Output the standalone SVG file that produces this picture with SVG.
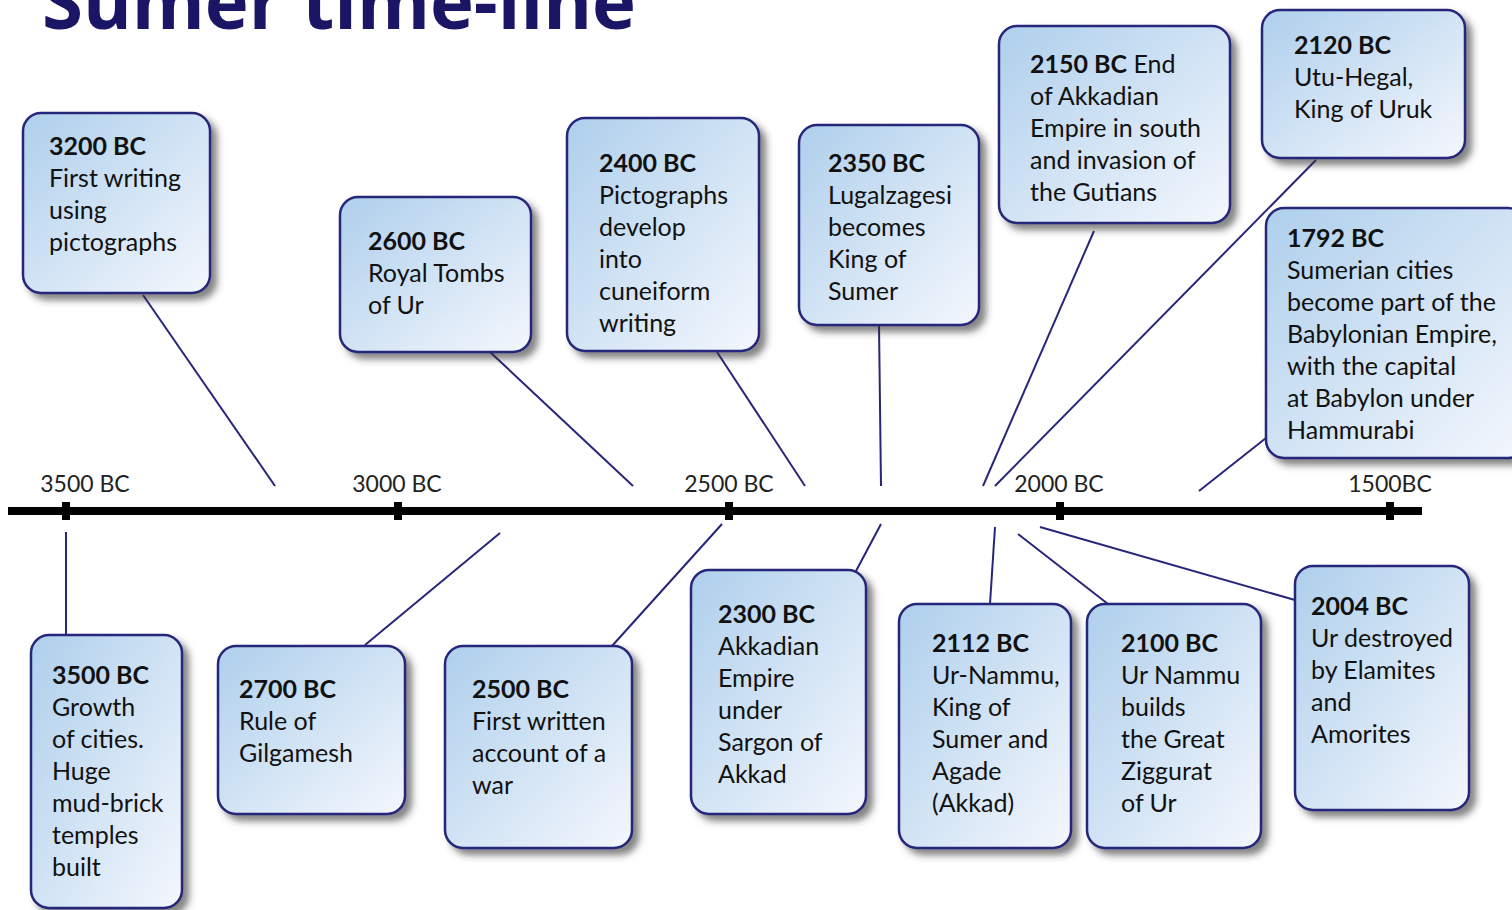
<svg xmlns="http://www.w3.org/2000/svg" width="1512" height="910" viewBox="0 0 1512 910">
<defs>
<linearGradient id="g" x1="0" y1="0" x2="1" y2="1">
<stop offset="0" stop-color="#aecfec"/>
<stop offset="1" stop-color="#f4f7fd"/>
</linearGradient>
<filter id="sh" x="-20%" y="-20%" width="150%" height="150%">
<feDropShadow dx="6" dy="6" stdDeviation="3.5" flood-color="#333" flood-opacity="0.6"/>
</filter>
<style>
.box{fill:url(#g);stroke:#27267a;stroke-width:2.5;filter:url(#sh)}
.t{font-family:Lato,"Liberation Sans",sans-serif;font-size:25px;fill:#111}
.b{font-weight:bold}
.ax{font-family:Lato,"Liberation Sans",sans-serif;font-size:23px;fill:#222;text-anchor:middle}
.c{stroke:#27267a;stroke-width:2;fill:none}
</style>
</defs>
<rect width="1512" height="910" fill="#fff"/>
<text x="42" y="29" font-family="'Open Sans',Lato,sans-serif" font-weight="bold" font-size="76" fill="#1b1566" textLength="594" lengthAdjust="spacingAndGlyphs">Sumer time-line</text>

<g id="axis">
<rect x="8" y="507" width="1414" height="8" fill="#000"/>
<rect x="62" y="502" width="8" height="18" fill="#000"/>
<rect x="394" y="502" width="8" height="18" fill="#000"/>
<rect x="725" y="502" width="8" height="18" fill="#000"/>
<rect x="1056" y="502" width="8" height="18" fill="#000"/>
<rect x="1386" y="502" width="8" height="18" fill="#000"/>
<text class="ax" x="85" y="492">3500 BC</text>
<text class="ax" x="397" y="492">3000 BC</text>
<text class="ax" x="729" y="492">2500 BC</text>
<text class="ax" x="1059" y="492">2000 BC</text>
<text class="ax" x="1390" y="492">1500BC</text>
</g>

<g id="connectors">
<line class="c" x1="143" y1="295" x2="275" y2="486"/>
<line class="c" x1="490" y1="352" x2="633" y2="486"/>
<line class="c" x1="717" y1="352" x2="805" y2="486"/>
<line class="c" x1="879" y1="325" x2="881" y2="486"/>
<line class="c" x1="1094" y1="231" x2="983" y2="486"/>
<line class="c" x1="1316" y1="160" x2="995" y2="486"/>
<line class="c" x1="1266" y1="438" x2="1199" y2="491"/>
<line class="c" x1="66" y1="532" x2="66" y2="635"/>
<line class="c" x1="500" y1="533" x2="365" y2="645"/>
<line class="c" x1="722" y1="524" x2="612" y2="646"/>
<line class="c" x1="881" y1="524" x2="856" y2="571"/>
<line class="c" x1="995" y1="527" x2="990" y2="604"/>
<line class="c" x1="1018" y1="534" x2="1108" y2="604"/>
<line class="c" x1="1040" y1="527" x2="1295" y2="600"/>
</g>

<g id="n3200">
<rect class="box" x="23" y="113" width="187" height="180" rx="18"/>
<text class="t" x="49" y="155"><tspan class="b">3200 BC</tspan><tspan x="49" dy="32">First writing</tspan><tspan x="49" dy="32">using</tspan><tspan x="49" dy="32">pictographs</tspan></text>
</g>
<g id="n2600">
<rect class="box" x="340" y="197" width="191" height="155" rx="18"/>
<text class="t" x="368" y="250"><tspan class="b">2600 BC</tspan><tspan x="368" dy="32">Royal Tombs</tspan><tspan x="368" dy="32">of Ur</tspan></text>
</g>
<g id="n2400">
<rect class="box" x="567" y="118" width="192" height="233" rx="18"/>
<text class="t" x="599" y="172"><tspan class="b">2400 BC</tspan><tspan x="599" dy="32">Pictographs</tspan><tspan x="599" dy="32">develop</tspan><tspan x="599" dy="32">into</tspan><tspan x="599" dy="32">cuneiform</tspan><tspan x="599" dy="32">writing</tspan></text>
</g>
<g id="n2350">
<rect class="box" x="799" y="125" width="180" height="200" rx="18"/>
<text class="t" x="828" y="172"><tspan class="b">2350 BC</tspan><tspan x="828" dy="32">Lugalzagesi</tspan><tspan x="828" dy="32">becomes</tspan><tspan x="828" dy="32">King of</tspan><tspan x="828" dy="32">Sumer</tspan></text>
</g>
<g id="n2150">
<rect class="box" x="999" y="26" width="231" height="197" rx="18"/>
<text class="t" x="1030" y="73"><tspan class="b">2150 BC</tspan> End<tspan x="1030" dy="32">of Akkadian</tspan><tspan x="1030" dy="32">Empire in south</tspan><tspan x="1030" dy="32">and invasion of</tspan><tspan x="1030" dy="32">the Gutians</tspan></text>
</g>
<g id="n2120">
<rect class="box" x="1262" y="10" width="203" height="148" rx="18"/>
<text class="t" x="1294" y="54"><tspan class="b">2120 BC</tspan><tspan x="1294" dy="32">Utu-Hegal,</tspan><tspan x="1294" dy="32">King of Uruk</tspan></text>
</g>
<g id="n1792">
<rect class="box" x="1266" y="208" width="260" height="250" rx="18"/>
<text class="t" x="1287" y="247"><tspan class="b">1792 BC</tspan><tspan x="1287" dy="32">Sumerian cities</tspan><tspan x="1287" dy="32">become part of the</tspan><tspan x="1287" dy="32">Babylonian Empire,</tspan><tspan x="1287" dy="32">with the capital</tspan><tspan x="1287" dy="32">at Babylon under</tspan><tspan x="1287" dy="32">Hammurabi</tspan></text>
</g>

<g id="n3500">
<rect class="box" x="31" y="635" width="151" height="273" rx="18"/>
<text class="t" x="52" y="684"><tspan class="b">3500 BC</tspan><tspan x="52" dy="32">Growth</tspan><tspan x="52" dy="32">of cities.</tspan><tspan x="52" dy="32">Huge</tspan><tspan x="52" dy="32">mud-brick</tspan><tspan x="52" dy="32">temples</tspan><tspan x="52" dy="32">built</tspan></text>
</g>
<g id="n2700">
<rect class="box" x="218" y="646" width="187" height="168" rx="18"/>
<text class="t" x="239" y="698"><tspan class="b">2700 BC</tspan><tspan x="239" dy="32">Rule of</tspan><tspan x="239" dy="32">Gilgamesh</tspan></text>
</g>
<g id="n2500">
<rect class="box" x="445" y="646" width="187" height="202" rx="18"/>
<text class="t" x="472" y="698"><tspan class="b">2500 BC</tspan><tspan x="472" dy="32">First written</tspan><tspan x="472" dy="32">account of a</tspan><tspan x="472" dy="32">war</tspan></text>
</g>
<g id="n2300">
<rect class="box" x="691" y="570" width="175" height="244" rx="18"/>
<text class="t" x="718" y="623"><tspan class="b">2300 BC</tspan><tspan x="718" dy="32">Akkadian</tspan><tspan x="718" dy="32">Empire</tspan><tspan x="718" dy="32">under</tspan><tspan x="718" dy="32">Sargon of</tspan><tspan x="718" dy="32">Akkad</tspan></text>
</g>
<g id="n2112">
<rect class="box" x="899" y="604" width="172" height="244" rx="18"/>
<text class="t" x="932" y="652"><tspan class="b">2112 BC</tspan><tspan x="932" dy="32">Ur-Nammu,</tspan><tspan x="932" dy="32">King of</tspan><tspan x="932" dy="32">Sumer and</tspan><tspan x="932" dy="32">Agade</tspan><tspan x="932" dy="32">(Akkad)</tspan></text>
</g>
<g id="n2100">
<rect class="box" x="1087" y="604" width="174" height="244" rx="18"/>
<text class="t" x="1121" y="652"><tspan class="b">2100 BC</tspan><tspan x="1121" dy="32">Ur Nammu</tspan><tspan x="1121" dy="32">builds</tspan><tspan x="1121" dy="32">the Great</tspan><tspan x="1121" dy="32">Ziggurat</tspan><tspan x="1121" dy="32">of Ur</tspan></text>
</g>
<g id="n2004">
<rect class="box" x="1295" y="566" width="174" height="244" rx="18"/>
<text class="t" x="1311" y="615"><tspan class="b">2004 BC</tspan><tspan x="1311" dy="32">Ur destroyed</tspan><tspan x="1311" dy="32">by Elamites</tspan><tspan x="1311" dy="32">and</tspan><tspan x="1311" dy="32">Amorites</tspan></text>
</g>
</svg>
